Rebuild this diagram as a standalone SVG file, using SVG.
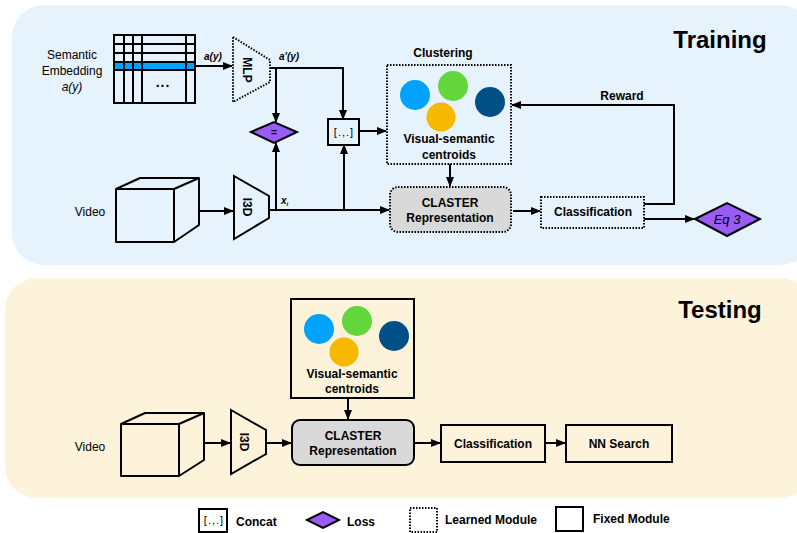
<svg xmlns="http://www.w3.org/2000/svg" width="797" height="533" viewBox="0 0 797 533">
  <defs>
    <marker id="arr" viewBox="0 0 10 10" refX="9" refY="5" markerWidth="5" markerHeight="5" orient="auto-start-reverse">
      <path d="M0,1 L10,5 L0,9 z" fill="#000"/>
    </marker>
    <style>
      text { font-family: "Liberation Sans", Arial, sans-serif; fill: #000; }
      .b { font-weight: bold; font-size: 12px; text-anchor: middle; }
      .bl { font-weight: bold; font-size: 12px; text-anchor: start; }
      .n { font-size: 12px; text-anchor: middle; }
      .cc { font-size: 11px; text-anchor: middle; letter-spacing: 1px; }
      .title { font-weight: bold; font-size: 24px; text-anchor: middle; }
      .lbl { font-weight: bold; font-style: italic; font-size: 10px; }
      .solid { fill: none; stroke: #000; stroke-width: 2; }
      .dot { fill: none; stroke: #000; stroke-width: 2; stroke-dasharray: 1.5 1.5; }
      .gray { fill: #d9d9d9; }
      .loss { fill: #9b5cf6; stroke: #000; stroke-width: 2; }
      .wire { fill: none; stroke: #000; stroke-width: 2; }
      .ar { marker-end: url(#arr); }
    </style>
  </defs>

  <!-- panels -->
  <rect id="training-panel" x="12" y="5" width="800" height="260" rx="32" fill="#e6f3fd"/>
  <rect id="testing-panel" x="5" y="278" width="807" height="220" rx="32" fill="#fdf3da"/>
  <text class="title" x="720" y="48">Training</text>
  <text class="title" x="720" y="318">Testing</text>

  <!-- ===== Training ===== -->
  <g id="semantic-embedding">
    <text class="n" x="72" y="59">Semantic</text>
    <text class="n" x="72" y="75">Embedding</text>
    <text class="n" x="72" y="91" style="font-style: italic">a(y)</text>
    <rect x="114" y="62" width="81" height="8" fill="#00a2ff"/>
    <rect class="solid" x="114" y="35" width="81" height="68"/>
    <path class="solid" d="M114,44 H195 M114,53 H195 M114,62 H195 M114,70 H195 M124,35 V103 M133,35 V103 M142,35 V103 M186,35 V103"/>
    <text x="163" y="87" style="font-size: 14px; font-weight: bold; text-anchor: middle; letter-spacing: 1px">...</text>
  </g>

  <g id="mlp">
    <path class="dot" d="M233,37 L270,60 L270,82 L233,102 Z"/>
    <text class="b" transform="translate(247,70) rotate(90)" y="4">MLP</text>
  </g>

  <g id="equal-loss">
    <path class="loss" d="M251,132 L274,122 L297,132 L274,143 Z"/>
    <text class="b" x="274" y="136" style="font-size: 10px">=</text>
  </g>

  <g id="concat">
    <rect class="solid" x="328" y="119" width="31" height="26"/>
    <text class="cc" x="344" y="136">[.,.]</text>
  </g>

  <g id="clustering">
    <text class="b" x="443" y="57">Clustering</text>
    <rect class="dot" x="387" y="65" width="124" height="99"/>
    <circle cx="415" cy="95" r="15" fill="#00a2ff"/>
    <circle cx="453" cy="86" r="15" fill="#62d63a"/>
    <circle cx="441" cy="117" r="14.5" fill="#f6b900"/>
    <circle cx="490" cy="102" r="15" fill="#004f86"/>
    <text class="b" x="449" y="143">Visual-semantic</text>
    <text class="b" x="449" y="159">centroids</text>
  </g>

  <g id="video-train">
    <text class="n" x="90" y="216">Video</text>
    <path class="solid" d="M116,189 H174 V242 H116 Z M116,189 L140,178 H199 L174,189 M199,178 V225 L174,242" stroke-linejoin="round"/>
  </g>

  <g id="i3d-train">
    <path class="solid" d="M234,176 L269,196 L269,218 L234,239 Z"/>
    <text class="b" transform="translate(247,207) rotate(90)" y="4">I3D</text>
  </g>

  <g id="claster-train">
    <rect class="dot gray" x="390" y="187" width="121" height="45" rx="8"/>
    <text class="b" x="450" y="207">CLASTER</text>
    <text class="b" x="450" y="222">Representation</text>
  </g>

  <g id="classification-train">
    <rect class="dot" x="541" y="197" width="103" height="31"/>
    <text class="b" x="593" y="216">Classification</text>
  </g>

  <g id="eq3-loss">
    <path class="loss" d="M695,219 L727,203 L760,219 L727,236 Z"/>
    <text x="727" y="224" style="font-size: 13px; font-style: italic; text-anchor: middle">Eq 3</text>
  </g>

  <!-- ===== Testing ===== -->
  <g id="centroids-test">
    <rect class="solid" x="291" y="299" width="123" height="99"/>
    <circle cx="319" cy="329" r="15" fill="#00a2ff"/>
    <circle cx="357" cy="321" r="15" fill="#62d63a"/>
    <circle cx="344" cy="352" r="14.5" fill="#f6b900"/>
    <circle cx="394" cy="336" r="15" fill="#004f86"/>
    <text class="b" x="352" y="378">Visual-semantic</text>
    <text class="b" x="352" y="393">centroids</text>
  </g>

  <g id="video-test">
    <text class="n" x="90" y="451">Video</text>
    <path class="solid" d="M121,424 H179 V476 H121 Z M121,424 L145,413 H204 L179,424 M204,413 V460 L179,476" stroke-linejoin="round"/>
  </g>

  <g id="i3d-test">
    <path class="solid" d="M231,410 L266,430 L266,454 L231,474 Z"/>
    <text class="b" transform="translate(244,442) rotate(90)" y="4">I3D</text>
  </g>

  <g id="claster-test">
    <rect class="solid gray" x="292" y="420" width="122" height="45" rx="8"/>
    <text class="b" x="353" y="440">CLASTER</text>
    <text class="b" x="353" y="455">Representation</text>
  </g>

  <g id="classification-test">
    <rect class="solid" x="441" y="425" width="104" height="37"/>
    <text class="b" x="493" y="448">Classification</text>
  </g>

  <g id="nn-search">
    <rect class="solid" x="566" y="425" width="106" height="37"/>
    <text class="b" x="619" y="448">NN Search</text>
  </g>

  <!-- ===== Legend ===== -->
  <g id="legend">
    <rect class="solid" x="199" y="509" width="28" height="23"/>
    <text class="cc" x="214" y="524">[.,.]</text>
    <text class="bl" x="236" y="526">Concat</text>
    <path class="loss" d="M307,520 L323,512 L339,520 L323,528 Z"/>
    <text class="bl" x="347" y="526">Loss</text>
    <rect class="dot" x="410" y="508" width="27" height="24"/>
    <text class="bl" x="445" y="524">Learned Module</text>
    <rect class="solid" x="556" y="507" width="27" height="24"/>
    <text class="bl" x="593" y="523">Fixed Module</text>
  </g>

  <!-- ===== Connectors ===== -->
  <g id="connectors">
    <text class="lbl" x="204" y="60">a(y)</text>
    <text class="lbl" x="279" y="60">a'(y)</text>
    <text class="lbl" x="281" y="204">x<tspan style="font-size: 6px" dy="2">i</tspan></text>
    <text class="b" x="622" y="100">Reward</text>

    <path class="wire ar" d="M195,66 H232"/>
    <path class="wire ar" d="M270,68 H343 V119"/>
    <path class="wire ar" d="M276,68 V122"/>
    <path class="wire ar" d="M359,131 H386"/>
    <path class="wire ar" d="M199,211 H233"/>
    <path class="wire ar" d="M269,210 H389"/>
    <path class="wire ar" d="M276,210 V143"/>
    <path class="wire ar" d="M344,210 V145"/>
    <path class="wire ar" d="M450,164 V186"/>
    <path class="wire ar" d="M513,211 H540"/>
    <path class="wire ar" d="M644,204 H674 V105 H512"/>
    <path class="wire ar" d="M644,219 H694"/>

    <path class="wire ar" d="M348,398 V419"/>
    <path class="wire ar" d="M204,443 H230"/>
    <path class="wire ar" d="M266,443 H291"/>
    <path class="wire ar" d="M414,443 H440"/>
    <path class="wire ar" d="M545,443 H565"/>
  </g>
</svg>
